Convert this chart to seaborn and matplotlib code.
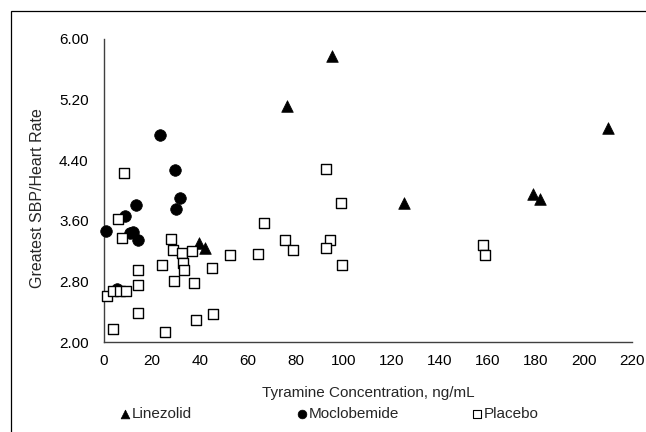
import matplotlib
matplotlib.use("Agg")
import matplotlib.pyplot as plt
from matplotlib.patches import Rectangle
import numpy as np
import pandas as pd
import seaborn as sns

# --- Data ---
linezolid_x = [95.1, 76.1, 39.7, 42.1, 209.9, 178.8, 181.9, 124.9]
linezolid_y = [5.77, 5.11, 3.31, 3.24, 4.82, 3.96, 3.89, 3.83]

moclobemide_x = [23.3, 29.6, 31.8, 30.0, 13.5, 8.6, 0.7, 10.8, 11.9, 14.3, 5.6]
moclobemide_y = [4.73, 4.27, 3.90, 3.75, 3.81, 3.67, 3.46, 3.44, 3.45, 3.35, 2.70]

placebo_x = [8.5, 5.7, 7.6, 27.8, 28.8, 32.4, 36.7, 32.9, 33.5, 24.0, 14.2, 44.9,
             52.6, 64.0, 66.5, 75.4, 78.9, 92.5, 98.6, 94.3, 92.4, 99.4, 14.3, 29.2,
             37.4, 1.3, 3.6, 6.7, 9.0, 14.0, 3.6, 25.3, 38.3, 45.4, 157.9, 158.9]
placebo_y = [4.23, 3.62, 3.37, 3.36, 3.22, 3.18, 3.20, 3.04, 2.95, 3.02, 2.95, 2.98,
             3.15, 3.16, 3.57, 3.35, 3.21, 4.28, 3.83, 3.35, 3.24, 3.02, 2.75, 2.80,
             2.78, 2.61, 2.68, 2.67, 2.68, 2.39, 2.17, 2.13, 2.29, 2.37, 3.28, 3.155]

groups = ["Linezolid", "Moclobemide", "Placebo"]
x_ticks = list(range(0, 221, 20))
y_ticks = [2.00, 2.80, 3.60, 4.40, 5.20, 6.00]

df = pd.concat([
    pd.DataFrame({"conc": linezolid_x, "ratio": linezolid_y, "drug": "Linezolid"}),
    pd.DataFrame({"conc": moclobemide_x, "ratio": moclobemide_y, "drug": "Moclobemide"}),
    pd.DataFrame({"conc": placebo_x, "ratio": placebo_y, "drug": "Placebo"}),
])

sns.set_style("white")
plt.rcParams["font.family"] = ["Liberation Sans", "DejaVu Sans"]
plt.rcParams["font.size"] = 11

fig = plt.figure(figsize=(6.46, 4.32), dpi=100)
ax = fig.add_axes([0.161, 0.208, 0.817, 0.702])

styles = {
    "Linezolid": dict(marker="^", color="black", edgecolor="black", s=70, linewidth=0.5),
    "Moclobemide": dict(marker="o", color="black", edgecolor="black", s=70, linewidth=0.5),
    "Placebo": dict(marker="s", color="white", edgecolor="black", s=62, linewidth=1.0),
}
for g in groups:
    sns.scatterplot(data=df[df["drug"] == g], x="conc", y="ratio", ax=ax,
                    label=g, zorder=3, clip_on=False, **styles[g])

ax.set_xlim(0, 220)
ax.set_ylim(2.0, 6.0)
ax.set_xticks(x_ticks)
ax.set_yticks(y_ticks)
ax.set_yticklabels([f"{v:.2f}" for v in y_ticks])
ax.tick_params(direction="in", length=5, width=1, color="#404040",
               labelsize=11, labelcolor="black")
ax.tick_params(axis="y", pad=11)
ax.tick_params(axis="x", pad=8.5)
for side in ["top", "right"]:
    ax.spines[side].set_visible(False)
for side in ["left", "bottom"]:
    ax.spines[side].set_color("#404040")
    ax.spines[side].set_linewidth(1)

ax.set_xlabel("Tyramine Concentration, ng/mL", fontsize=11, labelpad=13)
ax.set_ylabel("Greatest SBP/Heart Rate", fontsize=11.5, labelpad=10)
ax.yaxis.label.set_y(0.475)

# legend: one entry per column, placed under the axis
handles, labels = ax.get_legend_handles_labels()
ax.get_legend().remove()
legend_x = [120.5 / 646, 297 / 646, 472.5 / 646]
for h, l, lx in zip(handles, labels, legend_x):
    leg = fig.legend(handles=[h], labels=[l], loc="center left",
                     bbox_to_anchor=(lx, 1 - 414 / 432), frameon=False,
                     handlelength=0.6, handletextpad=0.16, borderpad=0,
                     borderaxespad=0, markerscale=0.75, fontsize=11)
    if l == "Placebo":
        leg.legend_handles[0].set_sizes([28])
        leg.legend_handles[0].set_linewidth(0.8)

# page frame (clipped on right and bottom)
fig.patches.append(Rectangle((11 / 646, -0.1), 1.2, 1.1 - 11 / 432,
                             transform=fig.transFigure, fill=False,
                             edgecolor="black", linewidth=0.9))

plt.savefig("out.png", dpi=100)
plt.close(fig)
